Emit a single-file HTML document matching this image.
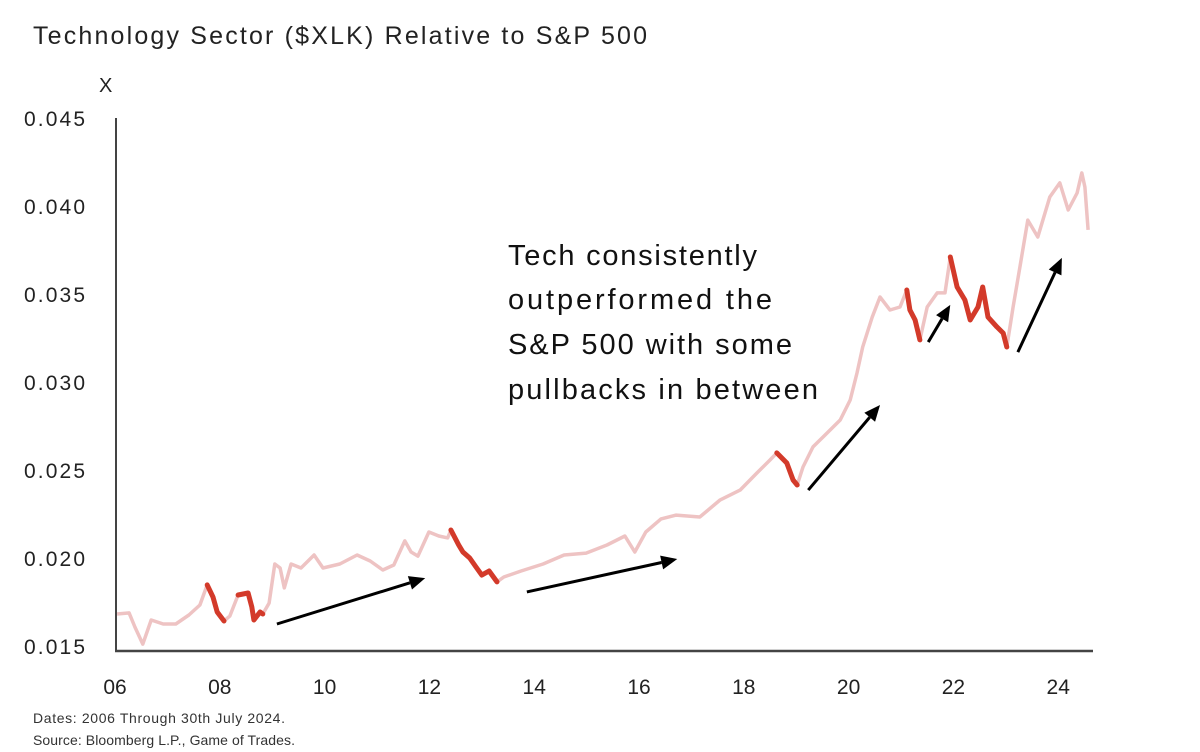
<!DOCTYPE html>
<html><head><meta charset="utf-8"><style>
body{margin:0;background:#fff;width:1200px;height:752px;overflow:hidden;font-family:"Liberation Sans",sans-serif;}
svg{display:block}
</style></head><body>
<svg id="chart" width="1200" height="752">
<text x="33" y="44" font-size="25" fill="#222" textLength="614" lengthAdjust="spacing">Technology Sector ($XLK) Relative to S&amp;P 500</text>
<text x="99" y="92" font-size="20" fill="#222">X</text>
<g id="axes"></g>
<g id="series"></g>
<g id="arrows"></g>
<g font-size="29" fill="#111">
<text x="508" y="265" textLength="249" lengthAdjust="spacing">Tech consistently</text>
<text x="508" y="309" textLength="264" lengthAdjust="spacing">outperformed the</text>
<text x="508" y="354" textLength="284" lengthAdjust="spacing">S&amp;P 500 with some</text>
<text x="508" y="399" textLength="310" lengthAdjust="spacing">pullbacks in between</text>
</g>
<text x="33" y="723" font-size="14" fill="#333" textLength="252" lengthAdjust="spacing">Dates: 2006 Through 30th July 2024.</text>
<text x="33" y="745" font-size="14" fill="#333" textLength="262" lengthAdjust="spacing">Source: Bloomberg L.P., Game of Trades.</text>
</svg>
<script>
const years=[2006.04,2006.27,2006.38,2006.53,2006.69,2006.92,2007.16,2007.41,2007.62,2007.76,2007.87,2007.95,2008.08,2008.19,2008.35,2008.54,2008.61,2008.65,2008.77,2008.82,2008.94,2009.05,2009.15,2009.23,2009.36,2009.55,2009.80,2009.97,2010.29,2010.62,2010.87,2011.11,2011.32,2011.53,2011.65,2011.78,2011.99,2012.18,2012.35,2012.41,2012.56,2012.64,2012.77,2012.89,2013.00,2013.14,2013.29,2013.42,2013.75,2014.17,2014.57,2014.99,2015.39,2015.73,2015.92,2016.13,2016.42,2016.71,2017.16,2017.55,2017.93,2018.25,2018.50,2018.63,2018.82,2018.94,2019.02,2019.13,2019.32,2019.59,2019.84,2020.03,2020.16,2020.27,2020.45,2020.60,2020.79,2020.98,2021.11,2021.17,2021.27,2021.36,2021.50,2021.69,2021.84,2021.94,2022.07,2022.22,2022.32,2022.47,2022.56,2022.66,2022.83,2022.95,2023.02,2023.14,2023.27,2023.42,2023.61,2023.84,2024.03,2024.19,2024.36,2024.45,2024.51,2024.57];
const values=[0.01682,0.01688,0.01608,0.01511,0.01648,0.01625,0.01625,0.01676,0.01733,0.01847,0.01778,0.01693,0.01642,0.01670,0.01790,0.01801,0.01722,0.01648,0.01693,0.01682,0.01744,0.01966,0.01943,0.01830,0.01966,0.01943,0.02017,0.01943,0.01966,0.02017,0.01983,0.01932,0.01960,0.02097,0.02034,0.02011,0.02148,0.02125,0.02114,0.02159,0.02074,0.02034,0.02000,0.01949,0.01903,0.01926,0.01864,0.01892,0.01926,0.01966,0.02017,0.02028,0.02074,0.02125,0.02034,0.02148,0.02222,0.02244,0.02233,0.02330,0.02386,0.02483,0.02557,0.02597,0.02540,0.02443,0.02415,0.02517,0.02631,0.02710,0.02784,0.02898,0.03051,0.03199,0.03369,0.03483,0.03409,0.03426,0.03523,0.03409,0.03352,0.03239,0.03426,0.03506,0.03506,0.03710,0.03540,0.03466,0.03352,0.03426,0.03540,0.03369,0.03313,0.03278,0.03199,0.03426,0.03653,0.03920,0.03824,0.04051,0.04131,0.03977,0.04074,0.04188,0.04108,0.03864];
const pullbackStarts=[2007.76,2008.35,2012.41,2018.63,2021.11,2021.94];
const pullbackEnds=[2008.08,2008.82,2013.29,2019.02,2021.36,2023.02];
const xTickYears=[2006,2008,2010,2012,2014,2016,2018,2020,2022,2024];
const xTickLabels=["06","08","10","12","14","16","18","20","22","24"];
const yTicks=[0.015,0.020,0.025,0.030,0.035,0.040,0.045];
const yTickLabels=["0.015","0.020","0.025","0.030","0.035","0.040","0.045"];
const arrowStartYears=[2009.09,2013.86,2019.23,2021.52,2023.23];
const arrowStartValues=[0.01625,0.01807,0.02386,0.03227,0.03170];
const arrowEndYears=[2011.92,2016.73,2020.60,2021.94,2024.07];
const arrowEndValues=[0.01886,0.01994,0.02869,0.03438,0.03705];

const NS="http://www.w3.org/2000/svg";
function xS(y){return 115+(y-2006)*52.4;}
function yS(v){return 646-(v-0.015)*17600;}
function mk(tag,attrs,parent){const e=document.createElementNS(NS,tag);for(const k in attrs)e.setAttribute(k,attrs[k]);parent.appendChild(e);return e;}

const axes=document.getElementById('axes');
let a=mk('line',{x1:116,y1:118,x2:116,y2:651,stroke:'#444','stroke-width':2},axes);


a=mk('line',{x1:115,y1:651,x2:1093,y2:651,stroke:'#444','stroke-width':2.5},axes);


xTickYears.forEach((yr,i)=>{
  const t=mk('text',{x:xS(yr),y:694,'font-size':21,fill:'#222','text-anchor':'middle'},axes);
  t.textContent=xTickLabels[i];
  
  
});
yTicks.forEach((v,i)=>{
  const t=mk('text',{x:24,y:yS(v)+8,'font-size':21,fill:'#222',textLength:61,lengthAdjust:'spacing'},axes);
  t.textContent=yTickLabels[i];
  
  
});

const series=document.getElementById('series');
const pts=years.map((y,i)=>xS(y).toFixed(1)+','+yS(values[i]).toFixed(1)).join(' ');
const line=mk('polyline',{points:pts,fill:'none',stroke:'#eec3c3','stroke-width':3.5,'stroke-linejoin':'round'},series);


pullbackStarts.forEach((s,k)=>{
  const e=pullbackEnds[k];
  const p=[];
  years.forEach((y,i)=>{if(y>=s-1e-6&&y<=e+1e-6)p.push(xS(y).toFixed(1)+','+yS(values[i]).toFixed(1));});
  const pl=mk('polyline',{points:p.join(' '),fill:'none',stroke:'#d33a2a','stroke-width':5,'stroke-linejoin':'round','stroke-linecap':'round'},series);
  
  
});

const arrows=document.getElementById('arrows');
arrowStartYears.forEach((sy,i)=>{
  const x1=xS(sy),y1=yS(arrowStartValues[i]),x2=xS(arrowEndYears[i]),y2=yS(arrowEndValues[i]);
  const ang=Math.atan2(y2-y1,x2-x1),L=16,W=7;
  const bx=x2-L*Math.cos(ang),by=y2-L*Math.sin(ang);
  const g=mk('g',{},arrows);
  
  
  mk('line',{x1:x1,y1:y1,x2:bx,y2:by,stroke:'#000','stroke-width':3},g);
  const px=-Math.sin(ang)*W,py=Math.cos(ang)*W;
  mk('polygon',{points:`${x2},${y2} ${bx+px},${by+py} ${bx-px},${by-py}`,fill:'#000'},g);
});
</script>
</body></html>
